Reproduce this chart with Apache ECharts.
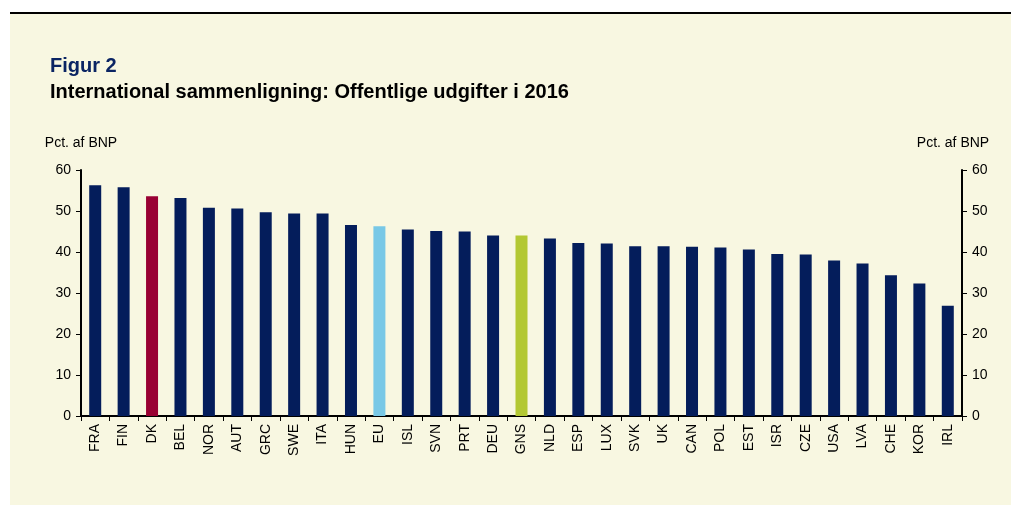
<!DOCTYPE html>
<html>
<head>
<meta charset="utf-8">
<script src="https://cdn.jsdelivr.net/npm/echarts@6/dist/echarts.min.js"></script>
<style>
  html, body { margin: 0; padding: 0; background: #fff; }
  #main { width: 1011px; height: 505px; }
</style>
</head>
<body>
<div id="main"></div>
<script>
// lande / grupper
var lande = ['FRA', 'FIN', 'DK', 'BEL', 'NOR', 'AUT', 'GRC', 'SWE', 'ITA', 'HUN', 'EU',
  'ISL', 'SVN', 'PRT', 'DEU', 'GNS', 'NLD', 'ESP', 'LUX', 'SVK', 'UK', 'CAN', 'POL',
  'EST', 'ISR', 'CZE', 'USA', 'LVA', 'CHE', 'KOR', 'IRL'];
// offentlige udgifter, pct. af BNP (2016)
var udgifter = [56.3, 55.8, 53.6, 53.2, 50.8, 50.6, 49.7, 49.4, 49.4, 46.6, 46.3,
  45.5, 45.1, 45.0, 44.0, 44.0, 43.3, 42.2, 42.1, 41.4, 41.4, 41.3, 41.1,
  40.6, 39.5, 39.4, 37.9, 37.2, 34.3, 32.3, 26.9];
// fremhaevede soejler
var saerfarver = { 'DK': '#990033', 'EU': '#78C8E6', 'GNS': '#B3C833' };
var standardFarve = '#041D5B';

var yMin = 0, yMax = 60, yStep = 10;

var data = [];
for (let i = 0; i < lande.length; i++) {
  data.push({
    value: udgifter[i],
    itemStyle: { color: saerfarver[lande[i]] || standardFarve }
  });
}

var font = 'Liberation Sans, Arial, sans-serif';

function yAkse(pos, pad) {
  return {
    type: 'value',
    position: pos,
    min: yMin,
    max: yMax,
    interval: yStep,
    name: 'Pct. af BNP',
    nameLocation: 'end',
    nameGap: 20,
    nameTextStyle: { color: '#000', fontFamily: font, fontSize: 14, padding: pad },
    axisLine: { show: true, lineStyle: { color: '#000', width: 2 } },
    axisTick: { show: true, length: 5, lineStyle: { color: '#000', width: 1 } },
    axisLabel: { color: '#000', fontFamily: font, fontSize: 14, margin: 10 },
    splitLine: { show: false }
  };
}

var myChart = echarts.init(document.getElementById('main'));
myChart.setOption({
  backgroundColor: '#fff',
  animation: false,
  graphic: [
    { type: 'rect', left: 10, top: 14, shape: { width: 1001, height: 491 }, style: { fill: '#F8F7E1' }, z: -10 },
    { type: 'line', shape: { x1: 10, y1: 13, x2: 1011, y2: 13 }, style: { stroke: '#000', lineWidth: 2 }, z: -5 }
  ],
  title: [
    { text: 'Figur 2', left: 45, top: 51,
      textStyle: { color: '#0A2463', fontFamily: font, fontSize: 20, fontWeight: 'bold' } },
    { text: 'International sammenligning: Offentlige udgifter i 2016', left: 45, top: 77,
      textStyle: { color: '#000', fontFamily: font, fontSize: 20, fontWeight: 'bold' } }
  ],
  grid: { left: 81, right: 49, top: 170, bottom: 89, containLabel: false },
  xAxis: {
    type: 'category',
    data: lande,
    axisLine: { show: true, lineStyle: { color: '#000', width: 2 } },
    axisTick: { show: true, length: 5, alignWithLabel: false, lineStyle: { color: '#000', width: 1 } },
    axisLabel: { interval: 0, rotate: 90, margin: 8, color: '#000', fontFamily: font, fontSize: 14 }
  },
  yAxis: [
    yAkse('left', [0, 0, 0, 0]),
    yAkse('right', [0, 18, 0, 0])
  ],
  series: [{
    type: 'bar',
    yAxisIndex: 0,
    barWidth: 12,
    data: data
  }]
});
</script>
</body>
</html>
